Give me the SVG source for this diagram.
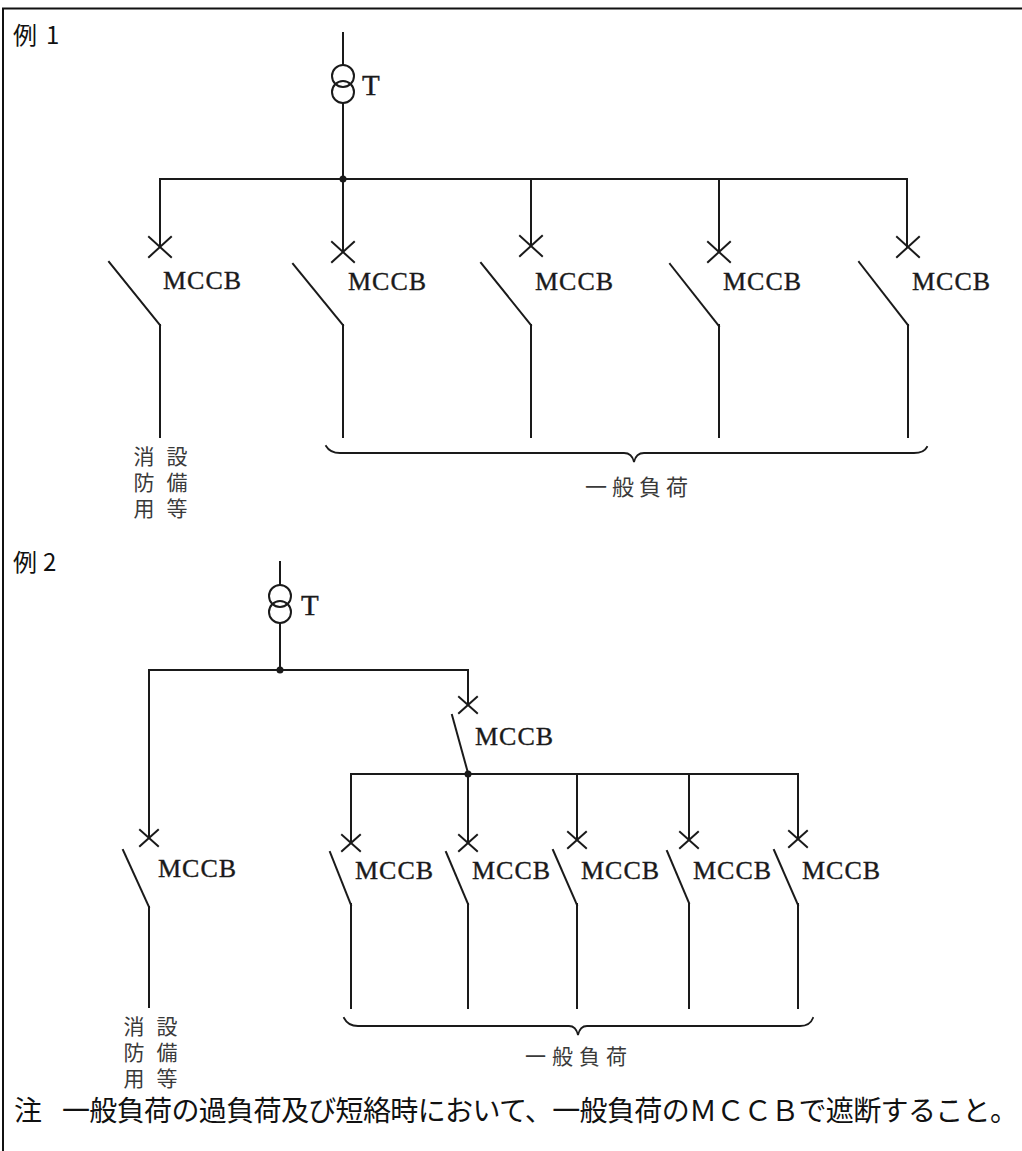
<svg xmlns="http://www.w3.org/2000/svg" width="1022" height="1151" viewBox="0 0 1022 1151">
<style>
.w{stroke:#1a1a1a;stroke-width:2;fill:none;stroke-linecap:square}
.t{font-family:"Liberation Serif","Times New Roman",serif;font-size:26px;fill:#1a1a1a;letter-spacing:1px;stroke:#1a1a1a;stroke-width:0.35}
.tt{font-family:"Liberation Serif","Times New Roman",serif;font-size:29px;fill:#1a1a1a;stroke:#1a1a1a;stroke-width:0.4}
.j{font-family:"Noto Sans CJK JP","Noto Sans",sans-serif;fill:#3a3a3a}
.v{font-family:"Noto Sans CJK JP","Noto Sans",sans-serif;fill:#3a3a3a;font-size:21px;writing-mode:vertical-rl;letter-spacing:5px}
.h{font-family:"Noto Sans CJK JP","Noto Sans",sans-serif;fill:#111}
.dot{fill:#1a1a1a}
</style>
<defs>
<path id="x1" d="M-11,-10L11,10M-11,10L11,-10" class="w"/>
<path id="x2" d="M-9,-8L9,8M-9,8L9,-8" class="w"/>
</defs>
<rect width="1022" height="1151" fill="#fff"/>
<g id="frame"><path d="M3,1151V8.5H1022" class="w" style="stroke:#111"/></g>
<g id="headings">
<text class="h" x="13" y="44" font-size="24">例<tspan x="46">1</tspan></text>
<text class="h" x="13" y="571" font-size="24">例<tspan x="43">2</tspan></text>
</g>

<g id="connectors">
<path class="w" d="M343,33V65M343,103V179"/>
<path class="w" d="M160,247V179H907V247"/>
<path class="w" d="M343,179V252M531,179V246M719,179V252"/>
<path class="w" d="M160,325V437M343,325V437M531,325V437M719,325V437M908,325V437"/>
<path class="w" d="M280,562V585M280,623V670"/>
<path class="w" d="M149,838V670H468V705"/>
<path class="w" d="M351,843V774H798V839"/>
<path class="w" d="M468,774V843M577,774V840M689,774V840"/>
<path class="w" d="M149,907V1007M351,904V1008M468,904V1008M577,904V1008M689,904V1008M798,904V1008"/>
</g>

<g id="ex1-transformer">
<circle cx="343" cy="76" r="11" class="w"/>
<circle cx="343" cy="92" r="11" class="w"/>
<text class="tt" x="362" y="95">T</text>
</g>
<g id="ex1-junction"><circle class="dot" cx="343" cy="179" r="3.5"/></g>

<g id="ex1-mccb1"><use href="#x1" x="160" y="247"/><path class="w" d="M109,262L160,325"/><text class="t" x="163" y="289">MCCB</text></g>
<g id="ex1-mccb2"><use href="#x1" x="343" y="252"/><path class="w" d="M293,264L343,325"/><text class="t" x="348" y="290">MCCB</text></g>
<g id="ex1-mccb3"><use href="#x1" x="531" y="246"/><path class="w" d="M481,263L531,325"/><text class="t" x="535" y="290">MCCB</text></g>
<g id="ex1-mccb4"><use href="#x1" x="719" y="252"/><path class="w" d="M670,264L719,326"/><text class="t" x="723" y="290">MCCB</text></g>
<g id="ex1-mccb5"><use href="#x1" x="908" y="247"/><path class="w" d="M859,262L908,325"/><text class="t" x="912" y="290">MCCB</text></g>

<g id="ex1-fire-label">
<text class="v" x="144" y="446">消防用</text>
<text class="v" x="177" y="446">設備等</text>
</g>
<g id="ex1-general-load">
<path class="w" style="stroke-width:1.8" d="M326,446Q330,453 340,453H624Q632,453 634,462Q636,453 644,453H914Q924,453 927,447"/>
<text class="j" font-size="22" x="585" y="495" letter-spacing="5">一般負荷</text>
</g>

<g id="ex2-transformer">
<circle cx="280" cy="596" r="11" class="w"/>
<circle cx="280" cy="612" r="11" class="w"/>
<text class="tt" x="301" y="615">T</text>
</g>
<g id="ex2-junction1"><circle class="dot" cx="280" cy="670" r="3.5"/></g>
<g id="ex2-junction2"><circle class="dot" cx="468" cy="774" r="3.5"/></g>

<g id="ex2-mccb-main"><use href="#x2" x="468" y="705"/><path class="w" d="M452,715L468,773"/><text class="t" x="475" y="745">MCCB</text></g>
<g id="ex2-mccb-fire"><use href="#x2" x="149" y="838"/><path class="w" d="M123,850L149,907"/><text class="t" x="158" y="877">MCCB</text></g>
<g id="ex2-mccb1"><use href="#x2" x="351" y="843"/><path class="w" d="M330,852L351,905"/><text class="t" x="355" y="879">MCCB</text></g>
<g id="ex2-mccb2"><use href="#x2" x="468" y="843"/><path class="w" d="M446,852L468,904"/><text class="t" x="472" y="879">MCCB</text></g>
<g id="ex2-mccb3"><use href="#x2" x="577" y="840"/><path class="w" d="M553,850L577,905"/><text class="t" x="581" y="879">MCCB</text></g>
<g id="ex2-mccb4"><use href="#x2" x="689" y="840"/><path class="w" d="M667,851L689,903"/><text class="t" x="693" y="879">MCCB</text></g>
<g id="ex2-mccb5"><use href="#x2" x="798" y="839"/><path class="w" d="M774,850L798,905"/><text class="t" x="802" y="879">MCCB</text></g>

<g id="ex2-fire-label">
<text class="v" x="134" y="1016">消防用</text>
<text class="v" x="167" y="1016">設備等</text>
</g>
<g id="ex2-general-load">
<path class="w" style="stroke-width:1.8" d="M344,1018Q348,1026 358,1026H569Q576,1026 578,1035Q580,1026 587,1026H800Q810,1026 813,1018"/>
<text class="j" font-size="21" x="525" y="1064" letter-spacing="6">一般負荷</text>
</g>

<g id="note">
<text class="h" font-size="28" x="14" y="1121">注</text>
<text class="h" font-size="28" x="62" y="1121" textLength="956" lengthAdjust="spacing">一般負荷の過負荷及び短絡時において、一般負荷のＭＣＣＢで遮断すること。</text>
</g>
</svg>
